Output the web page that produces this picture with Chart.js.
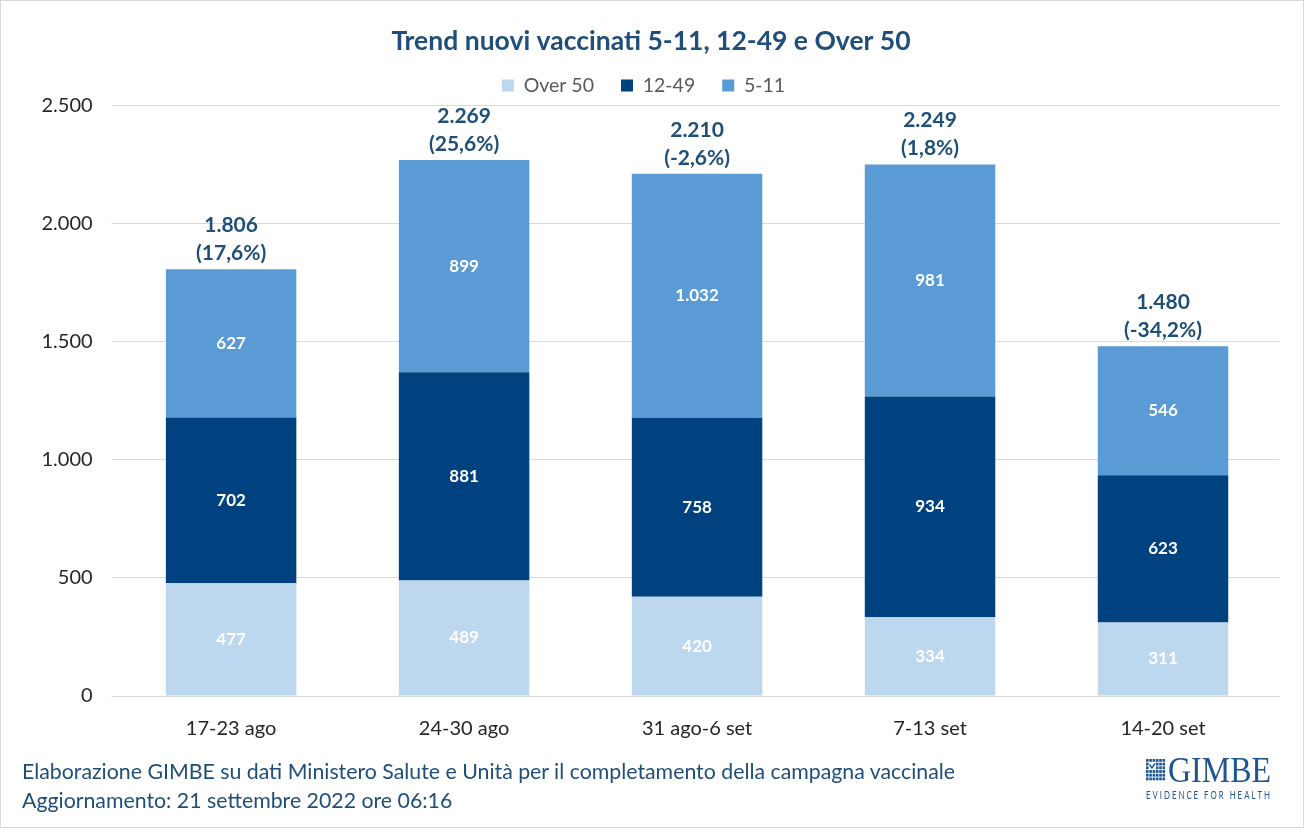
<!DOCTYPE html>
<html>
<head>
<meta charset="utf-8">
<script src="https://cdn.jsdelivr.net/npm/chart.js@4"></script>
<style>
  html, body { margin: 0; padding: 0; background: #fff; }
  #wrap { position: relative; width: 1302px; height: 826px; border: 1px solid #d9d9d9; }
  #chart { position: absolute; left: 0; top: 0; }
  .note { position: absolute; left: 21px; font-family: Lato, sans-serif; font-size: 21.3px; color: #1f4e79; white-space: nowrap; }
</style>
</head>
<body>
<div id="wrap">
  <canvas id="chart" width="1302" height="826"></canvas>
  <div class="note" style="top:757px">Elaborazione GIMBE su dati Ministero Salute e Unità per il completamento della campagna vaccinale</div>
  <div class="note" style="top:786px">Aggiornamento: 21 settembre 2022 ore 06:16</div>
</div>
<script>
const weeks = ['17-23 ago', '24-30 ago', '31 ago-6 set', '7-13 set', '14-20 set'];
const over50 = [477, 489, 420, 334, 311];
const age1249 = [702, 881, 758, 934, 623];
const age511 = [627, 899, 1032, 981, 546];
const changePct = ['17,6%', '25,6%', '-2,6%', '1,8%', '-34,2%'];
const yTicks = [0, 500, 1000, 1500, 2000, 2500];

const FONT = 'Lato, sans-serif';

function fmt(n) {
  return String(n).replace(/\B(?=(\d{3})+(?!\d))/g, '.');
}

const barLabels = {
  id: 'barLabels',
  afterDatasetsDraw(chart) {
    const ctx = chart.ctx;
    ctx.save();
    ctx.textAlign = 'center';
    ctx.textBaseline = 'middle';
    ctx.font = 'bold 17px ' + FONT;
    ctx.fillStyle = '#ffffff';
    chart.data.datasets.forEach((ds, i) => {
      chart.getDatasetMeta(i).data.forEach((bar, j) => {
        const mid = (bar.y + bar.base) / 2;
        ctx.fillText(fmt(ds.data[j]), bar.x, mid);
      });
    });
    // totali sopra le colonne
    const top = chart.getDatasetMeta(chart.data.datasets.length - 1).data;
    ctx.font = 'bold 21px ' + FONT;
    ctx.fillStyle = '#1f4e79';
    top.forEach((bar, j) => {
      const total = over50[j] + age1249[j] + age511[j];
      ctx.fillText('(' + changePct[j] + ')', bar.x, bar.y - 16);
      ctx.fillText(fmt(total), bar.x, bar.y - 44);
    });
    ctx.restore();
  }
};

const logo = {
  id: 'logo',
  afterDraw(chart) {
    const ctx = chart.ctx;
    ctx.save();
    ctx.fillStyle = '#1f5591';
    const x0 = 1145, y0 = 758;
    for (let r = 0; r < 6; r++) {
      for (let c = 0; c < 6; c++) {
        if ((r === 1 || r === 2) && (c === 1 || c === 2)) continue;
        ctx.fillRect(x0 + c * 3.3, y0 + r * 3.7, 2.6, 2.8);
      }
    }
    // segno di spunta nel riquadro
    ctx.strokeStyle = '#1f5591';
    ctx.lineWidth = 1.4;
    ctx.beginPath();
    ctx.moveTo(x0 + 3.6, y0 + 5.5);
    ctx.lineTo(x0 + 6, y0 + 9);
    ctx.lineTo(x0 + 9, y0 + 4.5);
    ctx.stroke();

    ctx.textBaseline = 'alphabetic';
    ctx.textAlign = 'left';
    ctx.font = '35px "Liberation Serif", serif';
    let w = ctx.measureText('GIMBE').width;
    ctx.save();
    ctx.translate(1167, 781);
    ctx.scale(103 / w, 1);
    ctx.fillText('GIMBE', 0, 0);
    ctx.restore();

    ctx.font = '10.5px ' + FONT;
    const tag = 'E V I D E N C E   F O R   H E A L T H';
    w = ctx.measureText(tag).width;
    ctx.save();
    ctx.translate(1145, 797.5);
    ctx.scale(124 / w, 1);
    ctx.fillText(tag, 0, 0);
    ctx.restore();
    ctx.restore();
  }
};

new Chart(document.getElementById('chart'), {
  type: 'bar',
  data: {
    labels: weeks,
    datasets: [
      { label: 'Over 50', data: over50, backgroundColor: '#bdd7ee' },
      { label: '12-49', data: age1249, backgroundColor: '#004280' },
      { label: '5-11', data: age511, backgroundColor: '#5b9bd5' }
    ]
  },
  options: {
    responsive: false,
    animation: false,
    layout: { padding: { left: 21.5, right: 23.5, top: 0, bottom: 73 } },
    datasets: { bar: { categoryPercentage: 0.56, barPercentage: 1.0 } },
    plugins: {
      title: {
        display: true,
        text: 'Trend nuovi vaccinati 5-11, 12-49 e Over 50',
        color: '#1f4e79',
        font: { family: FONT, size: 26.5, weight: 'bold' },
        padding: { top: 25, bottom: -9 }
      },
      legend: {
        display: true,
        labels: {
          color: '#595959',
          font: { family: FONT, size: 19.5 },
          boxWidth: 12,
          boxHeight: 12,
          padding: 27,
          generateLabels(chart) {
            const items = Chart.defaults.plugins.legend.labels.generateLabels(chart);
            // spazio extra a destra per centrare la legenda come nell'originale
            items[items.length - 1].text += '   ';
            return items;
          }
        }
      },
      tooltip: { enabled: false }
    },
    scales: {
      x: {
        stacked: true,
        grid: { display: false },
        border: { display: true, color: '#d9d9d9' },
        ticks: { color: '#262626', font: { family: FONT, size: 20 }, padding: 13 }
      },
      y: {
        stacked: true,
        min: 0,
        max: 2500,
        afterBuildTicks(axis) { axis.ticks = yTicks.map(v => ({ value: v })); },
        grid: { color: '#d9d9d9', tickLength: 3 },
        border: { display: false },
        ticks: {
          color: '#262626',
          font: { family: FONT, size: 20 },
          padding: 19,
          callback: v => fmt(v)
        }
      }
    }
  },
  plugins: [barLabels, logo]
});
</script>
</body>
</html>
